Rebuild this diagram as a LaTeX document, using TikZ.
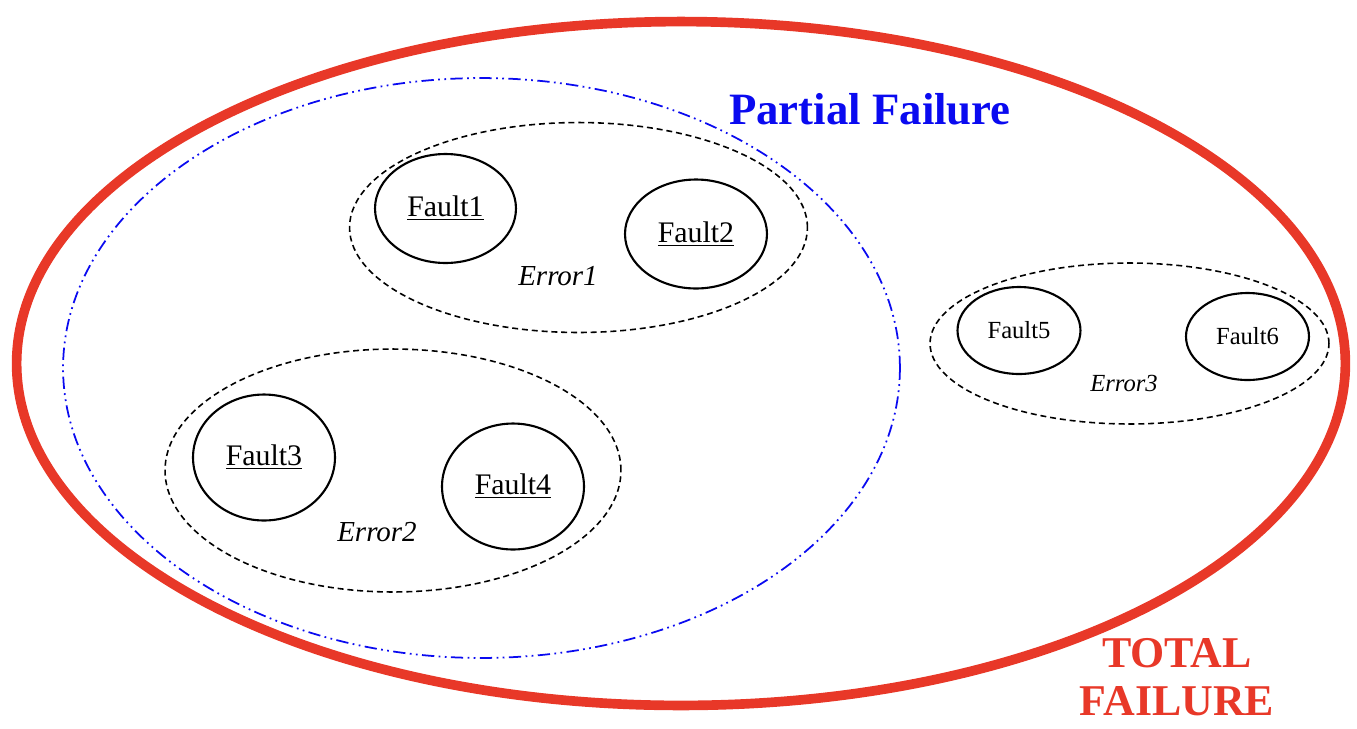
\documentclass[tikz,border=0pt]{standalone}
\usepackage{fontspec}
\setmainfont{Liberation Serif}
\usetikzlibrary{shapes.geometric}

\definecolor{failred}{RGB}{232,56,40}
\definecolor{partblue}{RGB}{10,10,240}

\tikzset{
    fault/.style={draw, ellipse, line width=1.2pt, inner sep=0pt,
        font=\fontsize{17}{20}\selectfont},
    smallfault/.style={fault, font=\fontsize{14}{17}\selectfont},
    errorzone/.style={draw, ellipse, line width=0.9pt, inner sep=0pt,
        dash pattern=on 3.4pt off 2.2pt},
    errorlabel/.style={font=\fontsize{16.5}{20}\selectfont\itshape}
}

\begin{document}
\begin{tikzpicture}[x=0.02cm, y=-0.02cm]
    \useasboundingbox (0,0) rectangle (1357,728);

    \node (total failure) [draw=failred, ellipse, line width=5.5pt, inner sep=0pt,
        minimum width=26.58cm, minimum height=13.68cm] at (681,363.5) {};

    \node (partial failure) [draw=partblue, ellipse, line width=1pt, inner sep=0pt,
        dash pattern=on 7pt off 2.5pt on 1pt off 2.5pt on 1pt off 2.5pt,
        minimum width=16.74cm, minimum height=11.6cm] at (481.5,368) {};

    \node (error1) [errorzone, minimum width=9.16cm, minimum height=4.2cm] at (578.5,227.5) {};
    \node (error2) [errorzone, minimum width=9.12cm, minimum height=4.86cm] at (393,470.5) {};
    \node (error3) [errorzone, minimum width=7.98cm, minimum height=3.22cm] at (1129.5,343.5) {};

    \node (fault1) [fault, minimum width=2.82cm, minimum height=2.18cm] at (445.5,208.5) {\underline{Fault1}};
    \node (fault2) [fault, minimum width=2.84cm, minimum height=2.18cm] at (696,234) {\underline{Fault2}};
    \node (fault3) [fault, minimum width=2.84cm, minimum height=2.52cm] at (264,457.5) {\underline{Fault3}};
    \node (fault4) [fault, minimum width=2.84cm, minimum height=2.52cm] at (513,486.5) {\underline{Fault4}};
    \node (fault5) [smallfault, minimum width=2.46cm, minimum height=1.74cm] at (1019,330.5) {Fault5};
    \node (fault6) [smallfault, minimum width=2.46cm, minimum height=1.74cm] at (1247.5,336.5) {Fault6};

    \node (error1 label) [errorlabel] at (558,276) {Error1};
    \node (error2 label) [errorlabel] at (377,532) {Error2};
    \node (error3 label) [errorlabel, font=\fontsize{14}{17}\selectfont\itshape] at (1124,383) {Error3};

    \node (partial label) [text=partblue, font=\fontsize{25.5}{28}\selectfont\bfseries] at (870,109) {Partial Failure};
    \node (total label) [text=failred, align=center, inner sep=0pt,
        font=\fontsize{25}{27.5}\selectfont\bfseries] at (1177,677) {TOTAL\\FAILURE};
\end{tikzpicture}
\end{document}
